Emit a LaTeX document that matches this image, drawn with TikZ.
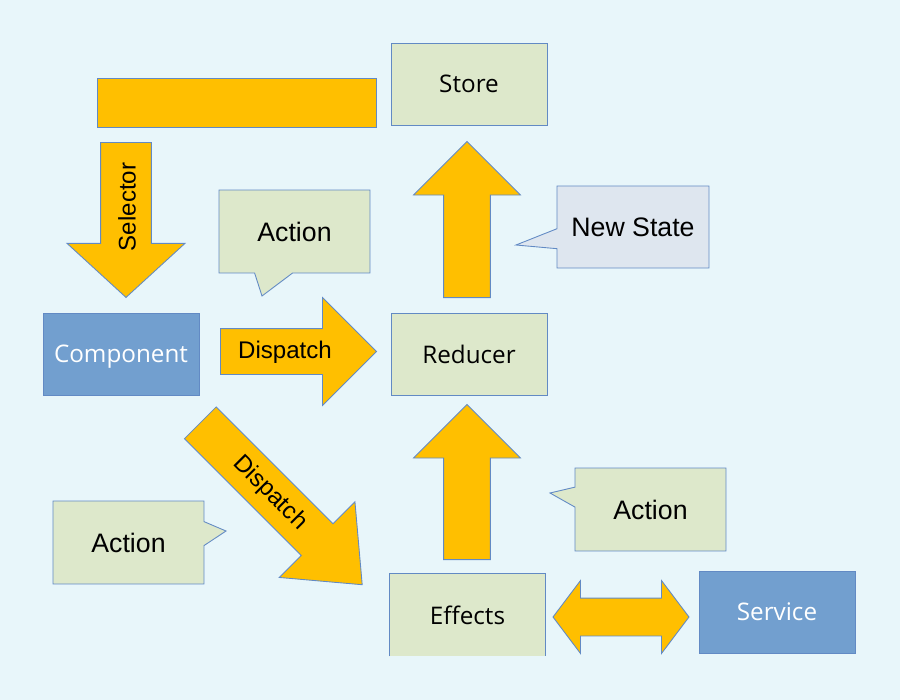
\documentclass[tikz,border=0pt]{standalone}
\usepackage{fontspec}
\setmainfont{Liberation Sans}
\newfontfamily\boxfont{Open Sans}
\usetikzlibrary{shapes.arrows, shapes.callouts}

\definecolor{bgblue}{RGB}{232,246,250}
\definecolor{boxgreen}{RGB}{221,232,203}
\definecolor{boxblue}{RGB}{114,159,207}
\definecolor{stategrey}{RGB}{222,230,239}
\definecolor{arroworange}{RGB}{255,191,0}
\definecolor{edgeblue}{RGB}{98,138,196}

\tikzstyle{block} = [rectangle, minimum width=3.12cm, minimum height=1.64cm, text centered, text depth=0pt, draw=edgeblue, line width=0.5pt, fill=boxgreen, font=\boxfont\fontsize{13.8}{16}\selectfont]
\tikzstyle{service} = [block, fill=boxblue, text=white]
\tikzstyle{note} = [rectangle callout, minimum width=3.02cm, minimum height=1.66cm, text centered, draw=edgeblue, line width=0.5pt, fill=boxgreen, font=\fontsize{15.2}{18}\selectfont]
\tikzstyle{fat} = [single arrow, anchor=tail, draw=edgeblue, line width=0.5pt, fill=arroworange, inner xsep=0pt, minimum width=1pt, single arrow tip angle=90]
\tikzstyle{fatboth} = [double arrow, draw=edgeblue, line width=0.5pt, fill=arroworange, inner xsep=0pt, minimum width=1pt]
\tikzstyle{tag} = [inner sep=0pt, font=\fontsize{13.7}{16}\selectfont]

\begin{document}
\begin{tikzpicture}[x=0.02cm, y=-0.02cm]

% Background
\fill[bgblue] (0,0) rectangle (900,700);

% Boxes
\node (store) [block] at (469,84) {Store};
\node (reducer) [block] at (469,354) {Reducer};
\node (component) [service] at (121,354) {Component};
\node (effects) [block, draw=none] at (467.5,615) {Effects};
\draw [edgeblue, line width=0.5pt] (effects.south west) -- (effects.north west) -- (effects.north east) -- (effects.south east);
\node (service) [service] at (777,612) {Service};

% Bar over the selector
\node (bar) [rectangle, draw=edgeblue, line width=0.5pt, fill=arroworange, minimum width=5.58cm, minimum height=0.98cm] at (236.5,102.5) {};

% Speech bubbles
\node (act1) [note, callout absolute pointer={(262,296)}, callout pointer width=0.76cm] at (294.5,231.5) {Action};
\node (newstate) [note, fill=stategrey, minimum width=3.04cm, minimum height=1.64cm, callout absolute pointer={(516,245)}, callout pointer width=0.4cm] at (633,227) {New State};
\node (act2) [note, callout absolute pointer={(226,531)}, callout pointer width=0.48cm] at (128.5,542.5) {Action};
\node (act3) [note, callout absolute pointer={(550,493)}, callout pointer width=0.4cm] at (650.5,509.5) {Action};

% Fat arrows (placed by their tails)
\node (selarrow) [fat, rotate=-90, minimum height=3.1cm, inner ysep=0.5cm, single arrow head extend=0.67cm, single arrow tip angle=95] at (126,142) {};
\node (disparrow) [fat, minimum height=3.12cm, inner ysep=0.45cm, single arrow head extend=0.62cm] at (220,351.5) {};
\node (diagarrow) [fat, rotate=-45, minimum height=4.58cm, inner ysep=0.44cm, single arrow head extend=0.62cm, single arrow tip angle=80] at (200,422.5) {};
\node (statearrow) [fat, rotate=90, minimum height=3.12cm, inner ysep=0.46cm, single arrow head extend=0.6cm] at (467,298) {};
\node (effarrow) [fat, rotate=90, minimum height=3.1cm, inner ysep=0.46cm, single arrow head extend=0.6cm] at (467,560) {};
\node (servarrow) [fatboth, minimum height=2.72cm, inner ysep=0.37cm, double arrow head extend=0.35cm, double arrow tip angle=106] at (621,617) {};

% Arrow labels
\node (seltag) [tag, rotate=90] at (127,207) {Selector};
\node (distag) [tag] at (285,352) {Dispatch};
\node (diagtag) [tag, rotate=-45] at (270,493) {Dispatch};

\end{tikzpicture}
\end{document}
